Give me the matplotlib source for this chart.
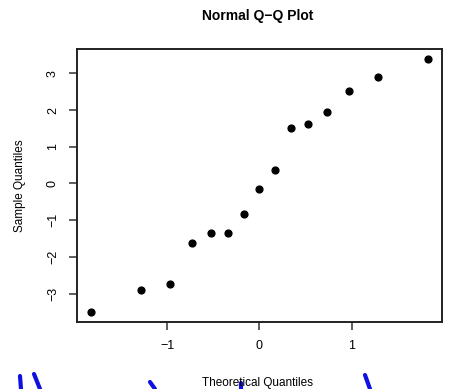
import numpy as np
import matplotlib
matplotlib.use("Agg")
import matplotlib.pyplot as plt
from matplotlib.lines import Line2D

plt.rcParams['font.family'] = ['Liberation Sans', 'DejaVu Sans']

# Theoretical quantiles for n=15 (ppoints)
theoretical = [-1.834, -1.282, -0.967, -0.728, -0.524, -0.341, -0.168, 0.0,
               0.168, 0.341, 0.524, 0.728, 0.967, 1.282, 1.834]
sample = [-3.50, -2.89, -2.75, -1.62, -1.35, -1.35, -0.82, -0.15,
          0.36, 1.52, 1.61, 1.95, 2.51, 2.90, 3.39]
x_ticks = [-1, 0, 1]
y_ticks = [-3, -2, -1, 0, 1, 2, 3]

W, H = 452, 389
fig = plt.figure(figsize=(W / 100, H / 100), dpi=100)
left, right, top, bottom = 77, 442, 49, 322
ax = fig.add_axes([left / W, 1 - bottom / H, (right - left) / W, (bottom - top) / H])

ax.scatter(theoretical, sample, s=24, color='black', zorder=3)

def ext(lo, hi):
    d = (hi - lo) * 0.04
    return lo - d, hi + d

ax.set_xlim(*ext(min(theoretical), max(theoretical)))
ax.set_ylim(*ext(min(sample), max(sample)))
ax.set_xticks(x_ticks)
ax.set_xticklabels(["\u22121" if v < 0 else str(v) for v in x_ticks], fontsize=9)
ax.set_yticks(y_ticks)
ax.set_yticklabels(["\u2212" + str(-v) if v < 0 else str(v) for v in y_ticks],
                   fontsize=9, rotation=90, va='center')
ax.tick_params(direction='out', length=6, width=1.1, pad=7, color='#333333')
for sp in ax.spines.values():
    sp.set_linewidth(1.4)
    sp.set_color('#222222')

fig.text(258 / W, 1 - 16 / H, "Normal Q\u2212Q Plot", ha='center', va='center',
         fontsize=10, fontweight='bold')
fig.text(258 / W, 1 - 383 / H, "Theoretical Quantiles", ha='center', va='center',
         fontsize=8.5)
fig.text(20 / W, 1 - 186 / H, "Sample Quantiles", ha='center', va='center',
         fontsize=8.5, rotation=90)

# blue handwritten strokes at the bottom edge
strokes = [[(20, 376), (21, 389)], [(34, 374), (40, 389)],
           [(150, 382), (155, 389)], [(241, 383), (241, 389)],
           [(365, 375), (370, 389)]]
for s in strokes:
    xs = [p[0] / W for p in s]
    ys = [1 - p[1] / H for p in s]
    fig.add_artist(Line2D(xs, ys, color='#1010e0', linewidth=3,
                          solid_capstyle='round'))

fig.savefig("out.png", dpi=100)
